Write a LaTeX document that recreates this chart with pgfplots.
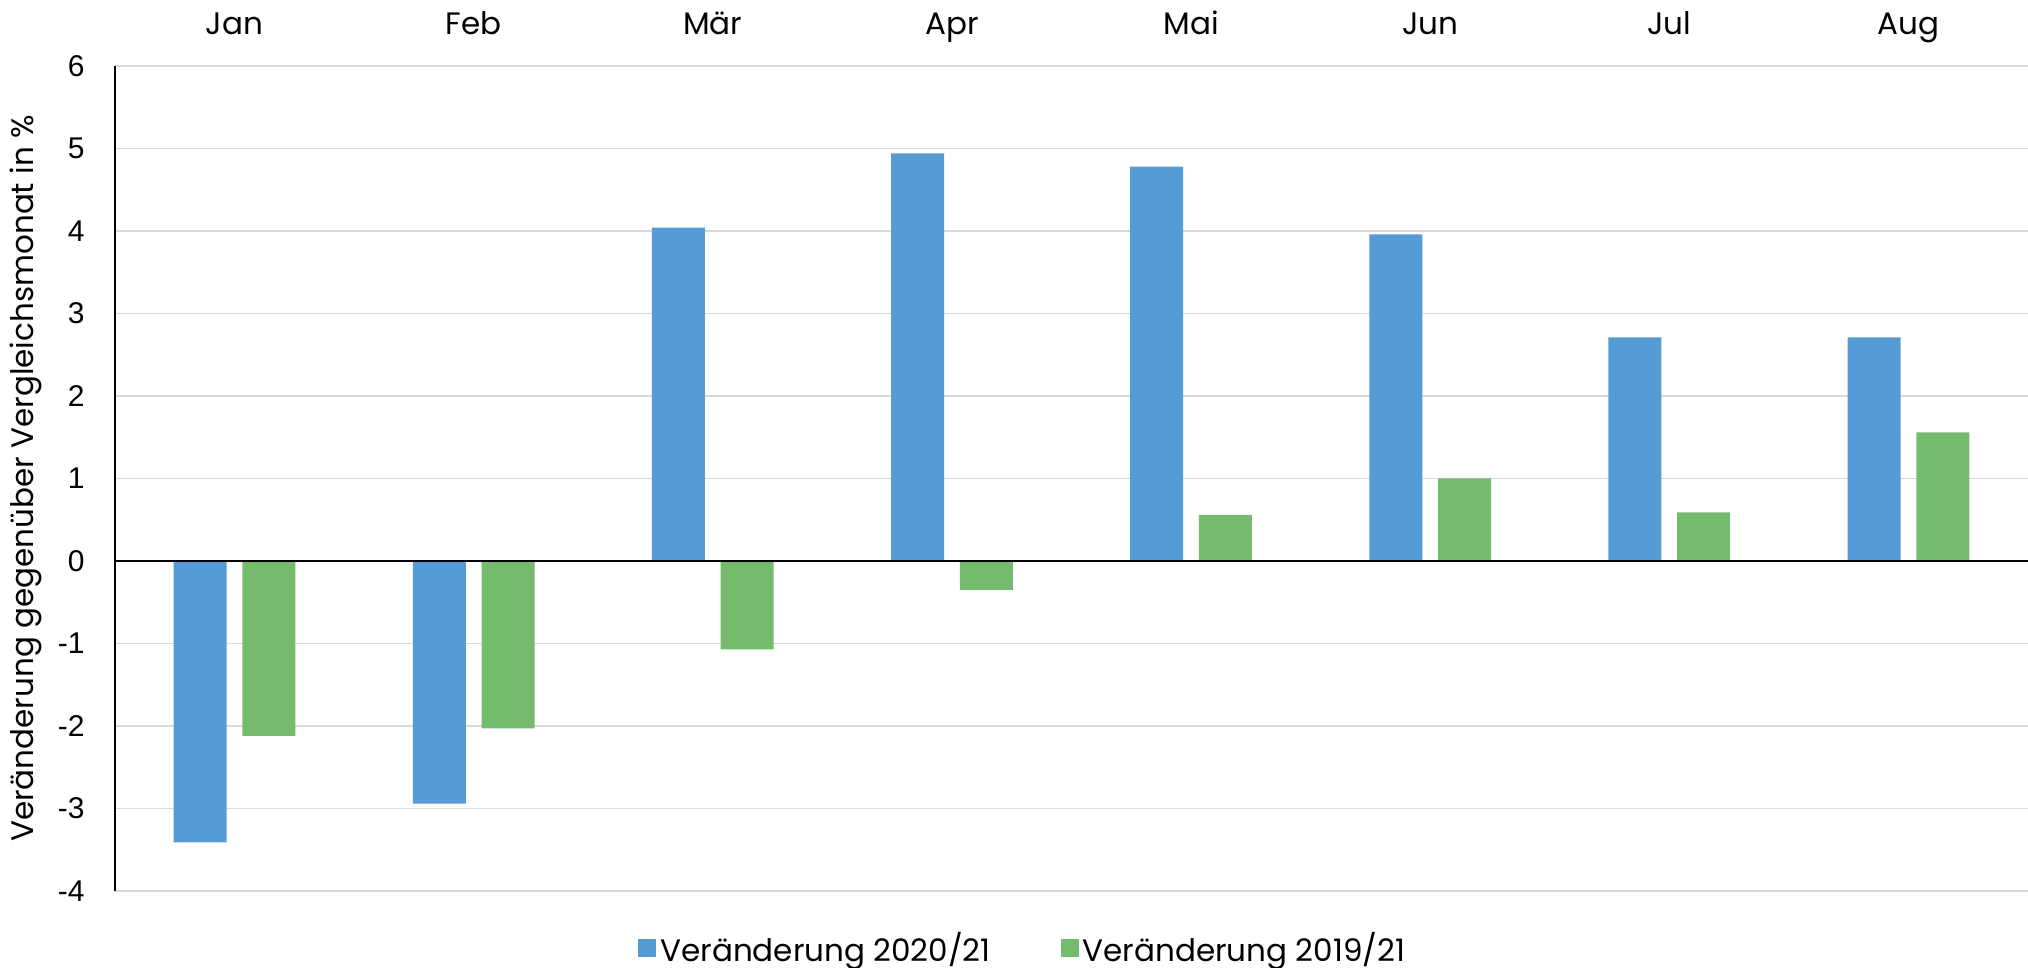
\documentclass[border=0pt]{standalone}
\usepackage{fontspec}
\setmainfont{Poppins}
\newfontfamily\tickfont{Liberation Sans}
\usepackage{pgfplots}
\pgfplotsset{compat=1.18}
\definecolor{cblue}{RGB}{85,155,214}
\definecolor{cgreen}{RGB}{116,187,110}
\definecolor{gridgray}{RGB}{217,217,217}
\begin{document}
\begin{tikzpicture}
\begin{axis}[
  scale only axis, width=956.5pt, height=412.5pt,
  xmin=-0.5, xmax=7.5, ymin=-4, ymax=6,
  ybar, bar width=26.5pt,
  axis y line*=left, axis x line*=top,
  x axis line style={draw=none},
  y axis line style={black, line width=1pt},
  xtick={0,...,7},
  xticklabels={Jan,Feb,Mär,Apr,Mai,Jun,Jul,Aug},
  ytick={-4,-3,...,6},
  major tick length=0pt,
  ymajorgrids, grid style={gridgray, line width=0.7pt},
  x tick label style={font=\fontsize{15.5}{18}\selectfont, anchor=base, yshift=15.5pt},
  y tick label style={font=\tickfont\fontsize{15}{18}\selectfont, anchor=east, inner sep=0pt, xshift=-15pt},
  /pgf/number format/assume math mode=true,
  ylabel={Veränderung gegenüber Vergleichsmonat in \%},
  ylabel style={font=\fontsize{15.5}{18}\selectfont, at={(axis description cs:-0.0465,0.5)}, anchor=center},
  legend style={at={(0.475,-0.069)}, anchor=center, draw=none, legend columns=2,
    font=\fontsize{15.5}{18}\selectfont,
    /tikz/every even column/.append style={column sep=33pt},
    nodes={inner sep=2pt}},
  legend image code/.code={\fill[#1] (0pt,-4.5pt) rectangle (9pt,4.5pt);},
]
\addplot[fill=cblue, draw=none, bar shift=-17.2pt] coordinates {
(0,-3.41) (1,-2.94) (2,4.04) (3,4.94) (4,4.78) (5,3.96) (6,2.71) (7,2.71)};
\addplot[fill=cgreen, draw=none, bar shift=17.2pt] coordinates {
(0,-2.12) (1,-2.03) (2,-1.07) (3,-0.35) (4,0.56) (5,1.00) (6,0.59) (7,1.56)};
\legend{Veränderung 2020/21, Veränderung 2019/21}
\draw[black, line width=1pt] (axis cs:-0.5,0) -- (axis cs:7.5,0);
\end{axis}
\pgfresetboundingbox
\path[use as bounding box] (-57.5pt,-38.5pt) rectangle (956.5pt,445.5pt);
\end{tikzpicture}
\end{document}
